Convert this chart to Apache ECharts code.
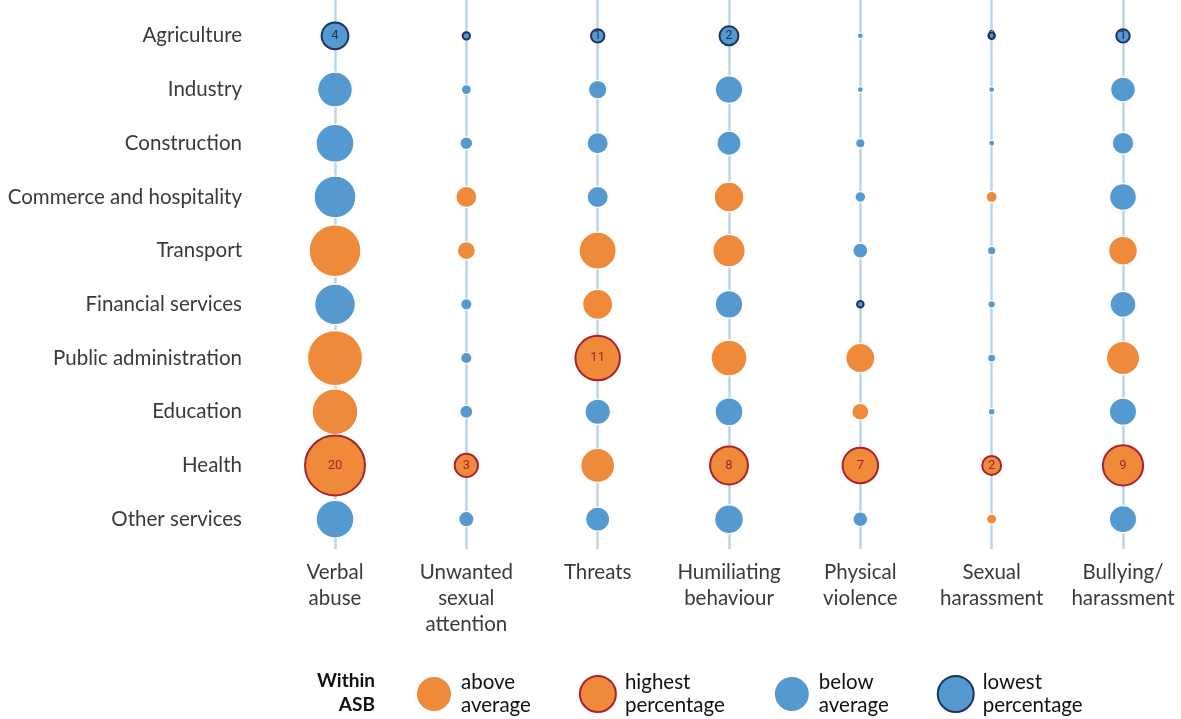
<!DOCTYPE html>
<html>
<head>
<meta charset="utf-8">
<script src="https://cdn.jsdelivr.net/npm/echarts@6/dist/echarts.min.js"></script>
<style>
  html, body { margin: 0; padding: 0; background: #fff; }
  #chart { width: 1181px; height: 719px; }
</style>
</head>
<body>
<div id="chart"></div>
<script>
// sectors (rows, top to bottom)
var sectors = ['Agriculture', 'Industry', 'Construction', 'Commerce and hospitality', 'Transport',
  'Financial services', 'Public administration', 'Education', 'Health', 'Other services'];

// types of adverse social behaviour (columns)
var asbTypes = ['Verbal\nabuse', 'Unwanted\nsexual\nattention', 'Threats', 'Humiliating\nbehaviour',
  'Physical\nviolence', 'Sexual\nharassment', 'Bullying/\nharassment'];

// % of workers per sector, one array per ASB type
var verbalAbuse   = [4, 6.7, 8.0, 9.7, 14.9, 9.2, 16.8, 11.6, 20, 7.9];
var unwantedSexual = [0.3, 0.56, 0.9, 2.45, 1.8, 0.71, 0.71, 0.94, 3, 1.3];
var threats       = [1, 1.9, 2.5, 2.5, 7.6, 5.0, 11, 3.6, 6.4, 3.2];
var humiliating   = [2, 4.2, 3.2, 4.9, 5.8, 4.2, 7.1, 4.3, 8, 4.6];
var physical      = [0.2, 0.18, 0.49, 0.63, 1.25, 0.12, 4.7, 1.6, 7, 1.2];
var sexualHarass  = [0, 0.14, 0.08, 0.67, 0.39, 0.3, 0.36, 0.25, 2, 0.56];
var bullying      = [1, 3.4, 2.6, 4.0, 4.6, 3.7, 6.1, 4.1, 9, 4.1];

// average within each ASB type
var asbAverage = [10.5, 1.5, 4.2, 4.75, 1.4, 0.45, 4.3];

var columns = [verbalAbuse, unwantedSexual, threats, humiliating, physical, sexualHarass, bullying];

var orange = '#ee8a39';
var blue = '#5499d0';
var red = '#a8232f';
var navy = '#1d3461';
var textColor = '#3a3a3a';
var font = 'Lato';

var groups = { above: [], highest: [], below: [], lowest: [] };
columns.forEach(function (col, j) {
  var maxIdx = col.indexOf(Math.max.apply(null, col));
  var minIdx = col.indexOf(Math.min.apply(null, col));
  col.forEach(function (v, i) {
    var g;
    if (i === maxIdx) g = 'highest';
    else if (i === minIdx) g = 'lowest';
    else if (v > asbAverage[j]) g = 'above';
    else g = 'below';
    groups[g].push([j, i, v]);
  });
});

function bubbleSize(val) {
  return Math.max(13.4 * Math.sqrt(val[2]), 6);
}
function outlinedSize(val) {
  return Math.max(13.4 * Math.sqrt(val[2]), 6.5);
}

var bubbleLabel = function (color) {
  return {
    show: true,
    position: 'inside',
    color: color,
    fontSize: 13,
    fontFamily: 'Roboto',
    formatter: function (p) {
      var v = p.value[2];
      if (v > 0 && v < 0.5) return '';
      return Math.round(v);
    }
  };
};

var chart = echarts.init(document.getElementById('chart'), null, { renderer: 'canvas' });

var option = {
  animation: false,
  textStyle: { fontFamily: font },
  grid: [
    { left: 335, right: 58, top: 9, height: 537 },
    { left: 335, right: 58, top: 0, height: 549 }
  ],
  xAxis: [{
    type: 'category',
    gridIndex: 0,
    data: asbTypes,
    boundaryGap: false,
    axisLine: { show: false },
    axisTick: { show: false },
    splitLine: { show: false },
    axisLabel: {
      interval: 0,
      margin: 13,
      color: textColor,
      fontSize: 20.5,
      lineHeight: 26,
      fontFamily: font
    }
  }, {
    type: 'category',
    gridIndex: 1,
    data: asbTypes,
    boundaryGap: false,
    axisLine: { show: false },
    axisTick: { show: false },
    axisLabel: { show: false },
    splitLine: { show: true, lineStyle: { color: '#bcd5e9', width: 2.5 } }
  }],
  yAxis: [{
    type: 'category',
    gridIndex: 0,
    data: sectors,
    inverse: true,
    axisLine: { show: false },
    axisTick: { show: false },
    splitLine: { show: false },
    axisLabel: {
      margin: 93,
      color: textColor,
      fontSize: 20.5,
      fontFamily: font
    }
  }, {
    type: 'value',
    gridIndex: 1,
    show: false
  }],
  legend: {
    left: 410,
    top: 666,
    itemWidth: 36,
    itemHeight: 38,
    itemGap: 48,
    icon: 'circle',
    data: ['above', 'highest', 'below', 'lowest'],
    formatter: function (name) {
      return {
        above: 'above\naverage',
        highest: 'highest\npercentage',
        below: 'below\naverage',
        lowest: 'lowest\npercentage'
      }[name];
    },
    textStyle: { color: '#111', fontSize: 20.5, lineHeight: 23, fontFamily: font, padding: [0, 0, 0, 4] }
  },
  graphic: [{
    type: 'text',
    right: 1181 - 375,
    top: 669,
    style: {
      text: 'Within\nASB',
      textAlign: 'right',
      font: 'bold 19px Lato',
      lineHeight: 24,
      fill: '#111'
    }
  }],
  series: [{
    name: 'above',
    type: 'scatter',
    data: groups.above,
    symbolSize: bubbleSize,
    itemStyle: { color: orange, borderColor: '#fff', borderWidth: 1.2, opacity: 1 }
  }, {
    name: 'highest',
    type: 'scatter',
    data: groups.highest,
    symbolSize: outlinedSize,
    itemStyle: { color: orange, borderColor: red, borderWidth: 2, opacity: 1 },
    label: bubbleLabel(red)
  }, {
    name: 'below',
    type: 'scatter',
    data: groups.below,
    symbolSize: bubbleSize,
    itemStyle: { color: blue, borderColor: '#fff', borderWidth: 1.2, opacity: 1 }
  }, {
    name: 'lowest',
    type: 'scatter',
    data: groups.lowest,
    symbolSize: outlinedSize,
    itemStyle: { color: blue, borderColor: navy, borderWidth: 2, opacity: 1 },
    label: bubbleLabel(navy)
  }]
};

chart.setOption(option);
</script>
</body>
</html>
